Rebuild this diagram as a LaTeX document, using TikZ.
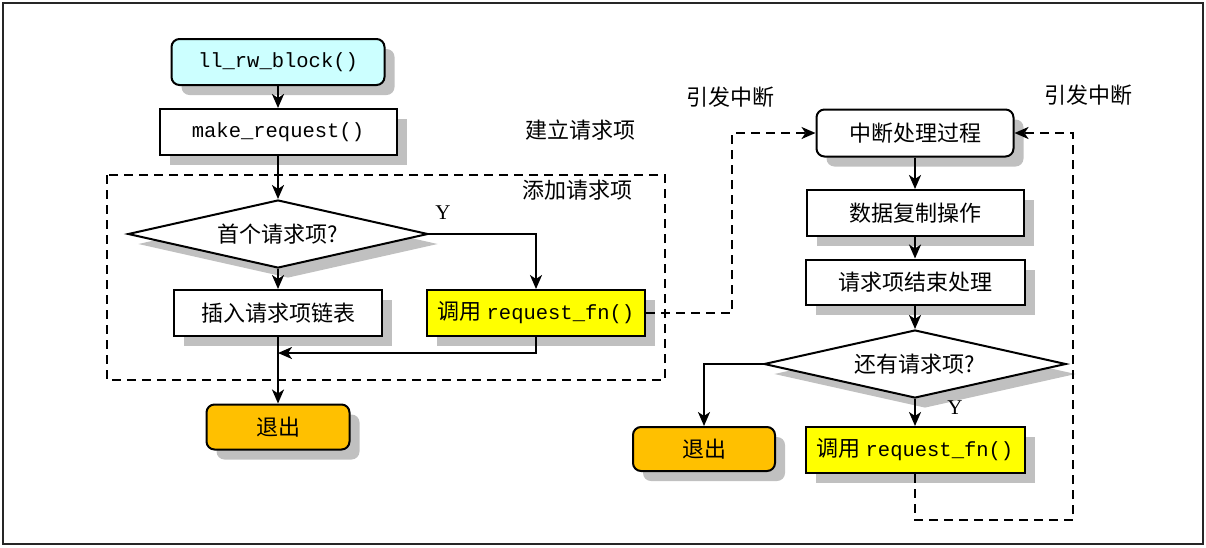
\documentclass[tikz,border=0pt]{standalone}
\usepackage{fontspec}
\setmainfont{Noto Sans CJK SC}
\setmonofont{Liberation Mono}
\newfontfamily\latinrm{Liberation Serif}
\usetikzlibrary{arrows.meta, shapes.geometric, shadows}

\definecolor{boxcyan}{HTML}{CCFFFF}
\definecolor{boxyellow}{HTML}{FFFF00}
\definecolor{boxorange}{HTML}{FFC000}
\definecolor{shadowgray}{HTML}{C0C0C0}

\newcommand{\cjksize}{\fontsize{22}{26}\selectfont}
\newcommand{\ttsize}{\fontsize{20.5}{24}\selectfont\ttfamily}

\tikzset{
  shadebox/.style={drop shadow={shadow xshift=10pt, shadow yshift=-10pt, fill=shadowgray, opacity=1}},
  procbox/.style={draw, line width=2pt, fill=white, shadebox, minimum height=46pt, inner sep=0pt, font=\cjksize},
  termbox/.style={procbox, rounded corners=8pt},
  decbox/.style={draw, line width=2pt, fill=white, shadebox, diamond, aspect=4.4, inner sep=0pt,
    minimum width=300pt, minimum height=68pt, font=\cjksize},
  arr/.style={line width=2.2pt, -{Stealth[length=14pt, width=12pt, inset=4pt]}},
  darr/.style={arr, dash pattern=on 9pt off 6pt},
  note/.style={font=\cjksize},
  ylabel/.style={font=\fontsize{21}{24}\selectfont\latinrm}
}

\begin{document}
\begin{tikzpicture}[x=1pt, y=-1pt]
	\useasboundingbox (0,0) rectangle (1206,547);
	
	% Frame
	\draw[line width=2pt, black!85] (3,3) rectangle (1203,544);
	
	% Group box
	\draw[line width=2pt, dash pattern=on 9pt off 6pt] (107,175) rectangle (665,380);
	\node[note] (lblbuild) at (580,130) {建立请求项};
	\node[note] (lbladd) at (577,190) {添加请求项};
	
	% Left flow - ll_rw_block
	\node[termbox, fill=boxcyan, minimum width=213pt, font=\ttsize] (llrw) at (278,62) {ll\_rw\_block()};
	\node[procbox, minimum width=237pt, font=\ttsize] (mkreq) at (278,132) {make\_request()};
	\node[decbox] (first) at (278,234) {首个请求项?};
	\node[procbox, minimum width=208pt] (ins) at (278,313) {插入请求项链表};
	\node[procbox, fill=boxyellow, minimum width=218pt] (callA) at (536,313) {调用 {\ttsize request\_fn()}};
	\node[termbox, fill=boxorange, minimum width=143pt, minimum height=45pt] (exitA) at (278,427) {退出};
	\node[ylabel] (yA) at (443,213) {Y};
	\coordinate (merge) at (278,353);
	
	% Right flow - interrupt handler
	\node[termbox, minimum width=197pt, minimum height=47pt] (intr) at (915,133) {中断处理过程};
	\node[procbox, minimum width=217pt] (copy) at (915,213) {数据复制操作};
	\node[procbox, minimum width=219pt, minimum height=45pt] (endp) at (915,282) {请求项结束处理};
	\node[decbox, minimum width=302pt] (more) at (915,364) {还有请求项?};
	\node[termbox, fill=boxorange, minimum width=142pt, minimum height=44pt] (exitB) at (704,449) {退出};
	\node[procbox, fill=boxyellow, minimum width=219pt] (callB) at (915,450) {调用 {\ttsize request\_fn()}};
	\node[ylabel] (yB) at (955,408) {Y};
	\node[note] (lblirqA) at (730,97) {引发中断};
	\node[note] (lblirqB) at (1088,95) {引发中断};
	\coordinate (linkA) at (732,133);
	\coordinate (linkB) at (1073,520);
	
	% Connectors
	\draw[arr] (llrw) -- (mkreq);
	\draw[arr] (mkreq) -- (first);
	\draw[arr] (first) -- (ins);
	\draw[arr] (first.east) -| (callA);
	\draw[arr] (callA.south) |- (merge);
	\draw[arr] (ins) -- (exitA);
	\draw[darr] (callA.east) -| (linkA) -- (intr.west);
	\draw[arr] (intr) -- (copy);
	\draw[arr] (copy) -- (endp);
	\draw[arr] (endp) -- (more);
	\draw[arr] (more.west) -| (exitB);
	\draw[arr] (more) -- (callB);
	\draw[darr] (callB.south) |- (linkB) |- (intr.east);
	
\end{tikzpicture}
\end{document}
